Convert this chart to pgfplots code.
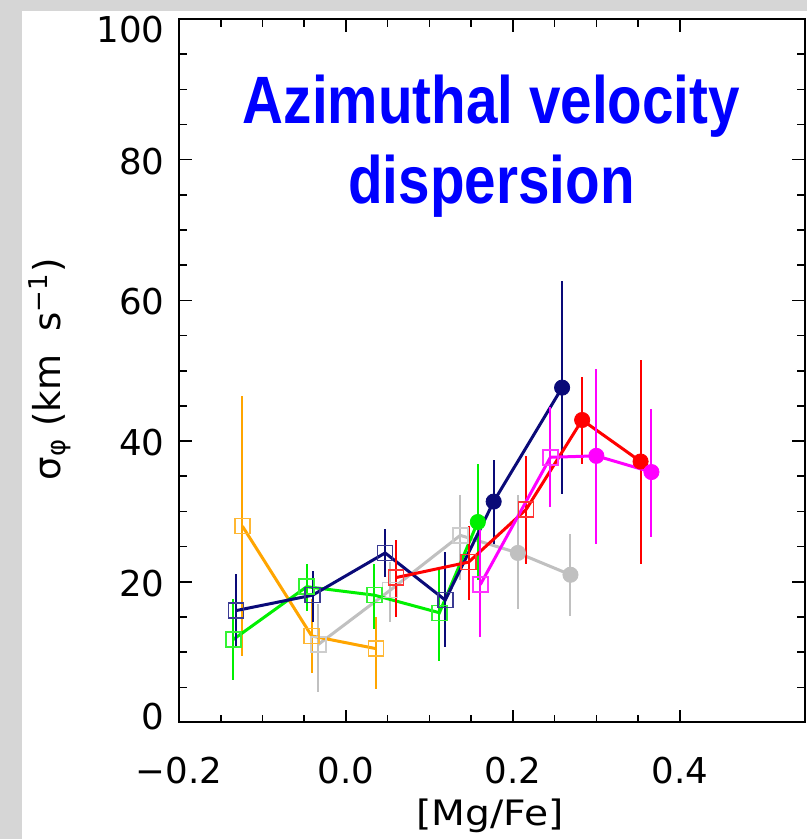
\documentclass[border=0pt]{standalone}
\usepackage{fontspec}
\setmainfont{DejaVu Sans}
\newfontfamily\titlefont[FakeStretch=0.845]{Liberation Sans}
\newfontfamily\labfont[FakeStretch=1.12]{DejaVu Sans}
\usepackage{pgfplots}
\pgfplotsset{compat=1.18}
\definecolor{cnavy}{RGB}{10,10,120}
\definecolor{corange}{RGB}{255,165,0}
\definecolor{cgreen}{RGB}{0,240,0}
\definecolor{cgrey}{RGB}{192,192,192}
\definecolor{cred}{RGB}{255,0,0}
\definecolor{cmag}{RGB}{255,0,255}
\definecolor{ctitle}{RGB}{0,0,255}
\definecolor{bggray}{RGB}{214,214,214}
\pgfplotsset{
  serline/.style={#1, line width=1.5pt, mark=none,
    error bars/.cd, y dir=both, y explicit, error mark=none,
    error bar style={line width=1pt, #1}},
  sqmark/.style={only marks, mark=square, mark size=3.75pt,
    mark options={draw=#1!80!white, fill=none, line width=0.75pt}},
  cimark/.style={only marks, mark=*, mark size=3.8pt,
    mark options={draw=#1, fill=#1}},
}
\begin{document}
\begin{tikzpicture}
\path[use as bounding box] (0,0) rectangle (403.5pt,419.5pt);
\fill[bggray] (0,0) rectangle (403.5pt,419.5pt);
\fill[white] (11pt,0) rectangle (403.5pt,414pt);
\begin{axis}[
  at={(89.5pt,58.25pt)}, anchor=south west,
  scale only axis, width=313pt, height=351.75pt,
  xmin=-0.2, xmax=0.55, ymin=0, ymax=100,
  xtick={-0.2,0,0.2,0.4}, xticklabels={−0.2,0.0,0.2,0.4},
  ytick={0,20,40,60,80,100},
  yticklabels={\raisebox{3.9pt}{0},20,40,60,80,\raisebox{-4.8pt}{100}},
  minor x tick num=3, minor y tick num=3,
  tick align=inside,
  major tick length=6.3pt, minor tick length=3.8pt,
  axis line style={line width=1pt},
  every tick/.style={black, line width=0.8pt},
  xticklabel shift=17pt,
  xticklabel style={font=\fontsize{17.8}{20}\selectfont, anchor=north, inner sep=0pt},
  yticklabel style={font=\fontsize{17.8}{20}\selectfont, anchor=base east, inner sep=0pt, xshift=-7pt, yshift=-7.2pt},
  ylabel={σ\textsubscript{φ} (km~~s\textsuperscript{−1})},
  ylabel style={font=\fontsize{18.5}{20}\selectfont, at={(axis description cs:-0.206,0.502)}, anchor=center, inner sep=0pt},
  clip=false,
]
% grey
\addplot[serline=cgrey] coordinates {
 (-0.033,11.1) += (0,5.8) -= (0,6.7)
 (0.053,18.8) += (0,4.0) -= (0,4.5)
 (0.137,26.6) += (0,5.7) -= (0,6.4)
 (0.206,24.1) += (0,8.2) -= (0,7.9)
 (0.269,21.0) += (0,5.8) -= (0,5.8)
};
\addplot[sqmark=cgrey] coordinates {(-0.033,11.1) (0.053,18.8) (0.137,26.6)};
\addplot[cimark=cgrey] coordinates {(0.206,24.1) (0.269,21.0)};
% orange
\addplot[serline=corange] coordinates {
 (-0.124,27.9) += (0,18.5) -= (0,18.4)
 (-0.041,12.3) += (0,5.2) -= (0,5.3)
 (0.036,10.5) += (0,4.5) -= (0,5.7)
};
\addplot[sqmark=corange] coordinates {(-0.124,27.9) (-0.041,12.3) (0.036,10.5)};
% green
\addplot[serline=cgreen] coordinates {
 (-0.135,11.8) += (0,5.8) -= (0,5.8)
 (-0.047,19.3) += (0,3.3) -= (0,3.4)
 (0.034,18.1) += (0,4.5) -= (0,4.8)
 (0.112,15.6) += (0,6.5) -= (0,6.8)
 (0.158,28.5) += (0,8.3) -= (0,8.2)
};
\addplot[sqmark=cgreen] coordinates {(-0.135,11.8) (-0.047,19.3) (0.034,18.1) (0.112,15.6)};
\addplot[cimark=cgreen] coordinates {(0.158,28.5)};
% navy
\addplot[serline=cnavy] coordinates {
 (-0.132,15.9) += (0,5.2) -= (0,5.2)
 (-0.040,18.1) += (0,3.5) -= (0,3.8)
 (0.047,24.1) += (0,3.4) -= (0,3.4)
 (0.119,17.4) += (0,6.8) -= (0,6.7)
 (0.177,31.4) += (0,5.9) -= (0,6.0)
 (0.259,47.6) += (0,15.1) -= (0,15.1)
};
\addplot[sqmark=cnavy] coordinates {(-0.132,15.9) (-0.040,18.1) (0.047,24.1) (0.119,17.4)};
\addplot[cimark=cnavy] coordinates {(0.177,31.4) (0.259,47.6)};
% red
\addplot[serline=cred] coordinates {
 (0.060,20.6) += (0,5.4) -= (0,5.6)
 (0.147,22.8) += (0,5.2) -= (0,5.4)
 (0.216,30.3) += (0,7.6) -= (0,7.7)
 (0.283,43.0) += (0,6.1) -= (0,6.2)
 (0.353,37.1) += (0,14.4) -= (0,14.5)
};
\addplot[sqmark=cred] coordinates {(0.060,20.6) (0.147,22.8) (0.216,30.3)};
\addplot[cimark=cred] coordinates {(0.283,43.0) (0.353,37.1)};
% magenta
\addplot[serline=cmag] coordinates {
 (0.161,19.6) += (0,8.2) -= (0,7.4)
 (0.245,37.7) += (0,7.1) -= (0,7.1)
 (0.300,37.9) += (0,12.3) -= (0,12.5)
 (0.366,35.6) += (0,9.0) -= (0,9.2)
};
\addplot[sqmark=cmag] coordinates {(0.161,19.6) (0.245,37.7)};
\addplot[cimark=cmag] coordinates {(0.300,37.9) (0.366,35.6)};
\end{axis}
\node[anchor=center, inner sep=0pt, font=\labfont\fontsize{17.5}{20}\selectfont] at (245pt,11.4pt) {[Mg/Fe]};
\node[anchor=base, inner sep=0pt, text=ctitle, font=\titlefont\bfseries\fontsize{33.5}{39.5}\selectfont] at (245.75pt,357.5pt) {Azimuthal velocity};
\node[anchor=base, inner sep=0pt, text=ctitle, font=\titlefont\bfseries\fontsize{33.5}{39.5}\selectfont] at (245.75pt,317.85pt) {dispersion};
\end{tikzpicture}
\end{document}
